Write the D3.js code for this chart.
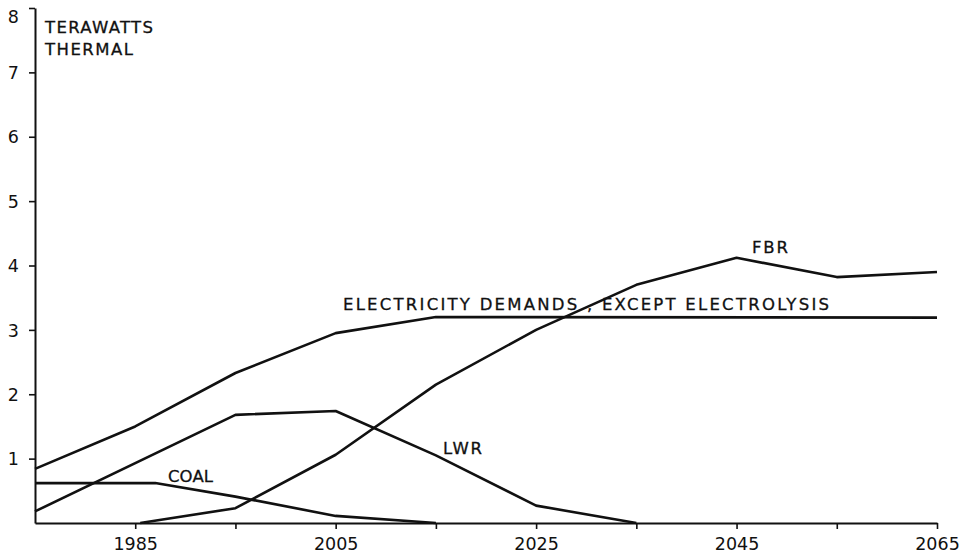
<!DOCTYPE html>
<html><head><meta charset="utf-8">
<script src="https://cdn.jsdelivr.net/npm/d3@7"></script>
<style>body{margin:0;background:#fff}svg text{font-family:"DejaVu Sans",sans-serif;fill:#111}</style>
</head><body>
<svg id="c" width="972" height="557"></svg>
<script>
const xTicks = [1985, 2005, 2025, 2045, 2065];
const xMinorTicks = [1995, 2015, 2035, 2055];
const yTicks = [1, 2, 3, 4, 5, 6, 7, 8];

const elecYears = [1975, 1985, 1995, 2005, 2015, 2065];
const elecVals  = [0.84, 1.5, 2.33, 2.95, 3.2, 3.19];

const lwrYears = [1975, 1995, 2005, 2015, 2025, 2035];
const lwrVals  = [0.18, 1.68, 1.74, 1.05, 0.27, 0.0];

const coalYears = [1975, 1987, 1995, 2005, 2015];
const coalVals  = [0.62, 0.62, 0.41, 0.11, 0.0];

const fbrYears = [1985.5, 1995, 2005, 2015, 2025, 2035, 2045, 2055, 2065];
const fbrVals  = [0.0, 0.23, 1.06, 2.15, 3.0, 3.7, 4.12, 3.82, 3.9];

const svg = d3.select("#c");
const x = d3.scaleLinear().domain([1975, 2065]).range([35, 937]);
const y = d3.scaleLinear().domain([0, 8]).range([523, 8]);

// axes
const xAxis = svg.append("g").attr("transform", `translate(0,${y(0)})`)
  .call(d3.axisBottom(x).tickValues(xTicks.concat(xMinorTicks)).tickFormat(d => xTicks.includes(d) ? d : "").tickSize(6).tickSizeOuter(0));
xAxis.select(".domain").attr("stroke", "#111").attr("stroke-width", 2);
xAxis.selectAll(".tick line").attr("stroke", "#111").attr("stroke-width", 1.6);
xAxis.selectAll(".tick text").attr("font-size", 17.5).attr("dy", "1.05em").attr("font-family", "DejaVu Sans").attr("fill", "#111");

const yAxis = svg.append("g").attr("transform", `translate(${x(1975)},0)`)
  .call(d3.axisLeft(y).tickValues(yTicks).tickSize(6).tickSizeOuter(0).tickPadding(10));
yAxis.select(".domain").attr("stroke", "#111").attr("stroke-width", 2);
yAxis.selectAll(".tick line").attr("stroke", "#111").attr("stroke-width", 1.6);
yAxis.selectAll(".tick text").attr("font-size", 17.5).attr("font-family", "DejaVu Sans").attr("fill", "#111")
  .attr("dy", d => d === 8 ? "0.85em" : "0.35em");

const line = d3.line().x(d => x(d[0])).y(d => y(d[1]));
const series = [
  [elecYears, elecVals], [lwrYears, lwrVals], [coalYears, coalVals], [fbrYears, fbrVals]
];
series.forEach(([ys, vs]) => {
  svg.append("path").datum(ys.map((yr, i) => [yr, vs[i]]))
    .attr("d", line).attr("fill", "none").attr("stroke", "#111")
    .attr("stroke-width", 2.6).attr("stroke-linejoin", "round");
});

// labels
function lab(t, px, py, len) {
  const el = svg.append("text").attr("x", px).attr("y", py).attr("font-size", 16.5)
    .attr("stroke", "#111").attr("stroke-width", 0.3).text(t);
  if (len) el.attr("textLength", len).attr("lengthAdjust", "spacing");
}
lab("TERAWATTS", 45, 33, 108);
lab("THERMAL", 45, 55, 88);
lab("COAL", 168, 482, 45);
lab("LWR", 443, 454, 39);
lab("FBR", 752, 253, 36);
lab("ELECTRICITY DEMANDS , EXCEPT ELECTROLYSIS", 343, 310, 486);
</script>
</body></html>
